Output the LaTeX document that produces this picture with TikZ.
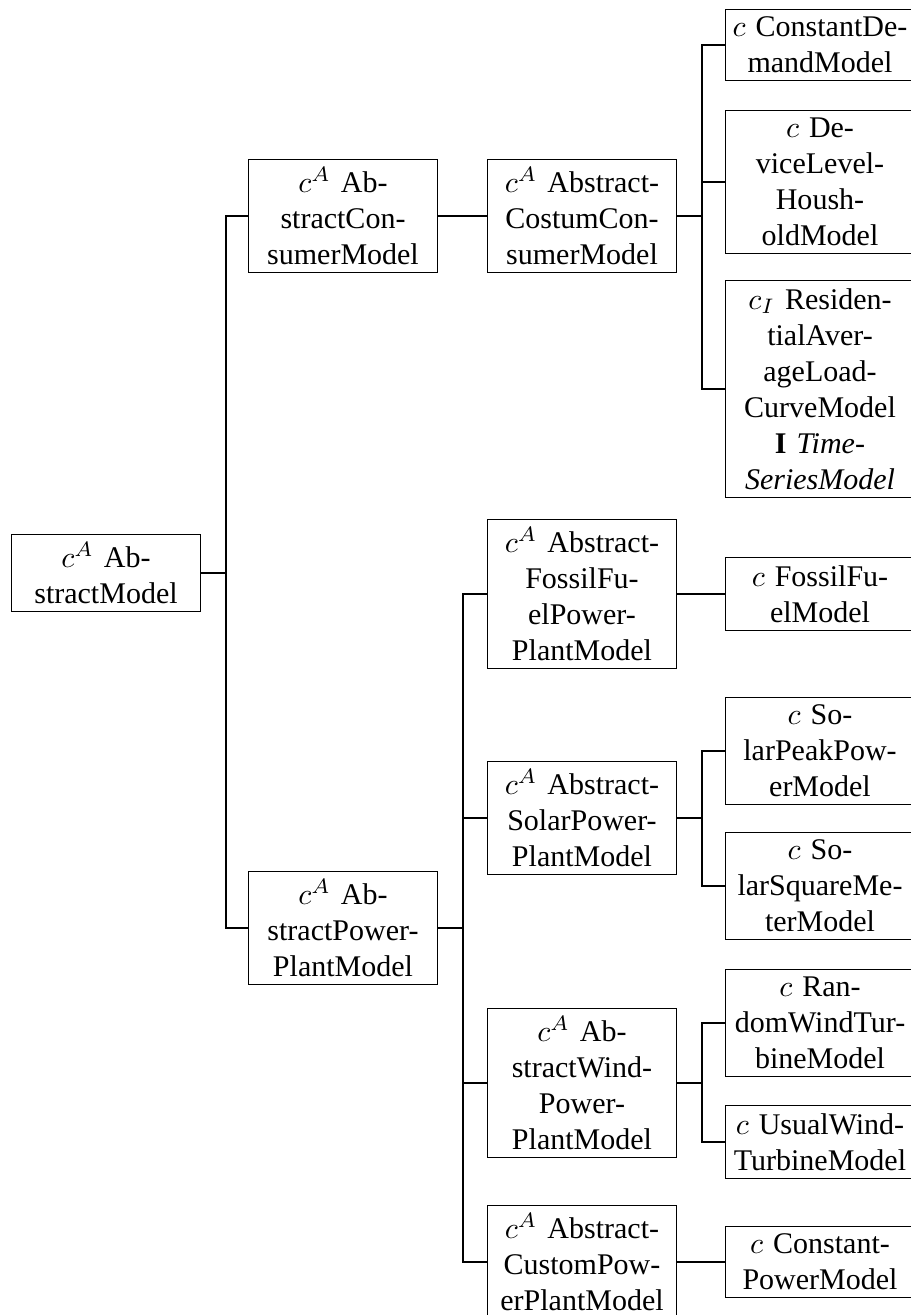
\documentclass[tikz,border=0pt]{standalone}
\usepackage{fontspec}
\setmainfont{Liberation Serif}
\usepackage{amsmath}
\usepackage{tikz}

\tikzset{
  modelbox/.style={draw, line width=0.4pt, align=center, inner xsep=2pt, inner ysep=2.6pt, text width=59pt},
  branch/.style={line width=0.6pt}
}

\begin{document}
\begin{tikzpicture}[x=0.3333pt, y=-0.3333pt]

\useasboundingbox (0,0) rectangle (910,1315);

% root
\node[modelbox] (abstract) at (106,573) {$c^A$ Ab-\\stractModel};

% second column
\node[modelbox] (consumer) at (343,216) {$c^A$ Ab-\\stractCon-\\sumerModel};
\node[modelbox] (plant) at (343,928) {$c^A$ Ab-\\stractPower-\\PlantModel};

% third column
\node[modelbox] (costum) at (582,216) {$c^A$ Abstract-\\CostumCon-\\sumerModel};
\node[modelbox] (fossil) at (582,594) {$c^A$ Abstract-\\FossilFu-\\elPower-\\PlantModel};
\node[modelbox] (solar) at (582,818) {$c^A$ Abstract-\\SolarPower-\\PlantModel};
\node[modelbox] (wind) at (582,1083) {$c^A$ Ab-\\stractWind-\\Power-\\PlantModel};
\node[modelbox] (custom) at (582,1262) {$c^A$ Abstract-\\CustomPow-\\erPlantModel};

% leaves
\node[modelbox] (demand) at (820,45) {$c$ ConstantDe-\\mandModel};
\node[modelbox] (device) at (820,182) {$c$ De-\\viceLevel-\\Housh-\\oldModel};
\node[modelbox] (residential) at (820,389) {$c_I$ Residen-\\tialAver-\\ageLoad-\\CurveModel\\\textbf{I} \textit{Time-}\\\textit{SeriesModel}};
\node[modelbox] (fuel) at (820,594) {$c$ FossilFu-\\elModel};
\node[modelbox] (peak) at (820,751) {$c$ So-\\larPeakPow-\\erModel};
\node[modelbox] (square) at (820,886) {$c$ So-\\larSquareMe-\\terModel};
\node[modelbox] (random) at (820,1023) {$c$ Ran-\\domWindTur-\\bineModel};
\node[modelbox] (usual) at (820,1142) {$c$ UsualWind-\\TurbineModel};
\node[modelbox] (constpower) at (820,1262) {$c$ Constant-\\PowerModel};

% forks
\coordinate (fork1) at (226,0);
\coordinate (fork2) at (463,0);
\coordinate (fork3) at (702,0);

\draw[branch] (abstract.east) -- (abstract.east -| fork1);
\foreach \child in {consumer, plant}
  \draw[branch] (abstract.east -| fork1) |- (\child.west);

\draw[branch] (consumer.east) -- (costum.west);

\draw[branch] (plant.east) -- (plant.east -| fork2);
\foreach \child in {fossil, solar, wind, custom}
  \draw[branch] (plant.east -| fork2) |- (\child.west);

\draw[branch] (costum.east) -- (costum.east -| fork3);
\foreach \child in {demand, device, residential}
  \draw[branch] (costum.east -| fork3) |- (\child.west);

\draw[branch] (fossil.east) -- (fuel.west);

\draw[branch] (solar.east) -- (solar.east -| fork3);
\foreach \child in {peak, square}
  \draw[branch] (solar.east -| fork3) |- (\child.west);

\draw[branch] (wind.east) -- (wind.east -| fork3);
\foreach \child in {random, usual}
  \draw[branch] (wind.east -| fork3) |- (\child.west);

\draw[branch] (custom.east) -- (constpower.west);

\end{tikzpicture}
\end{document}
